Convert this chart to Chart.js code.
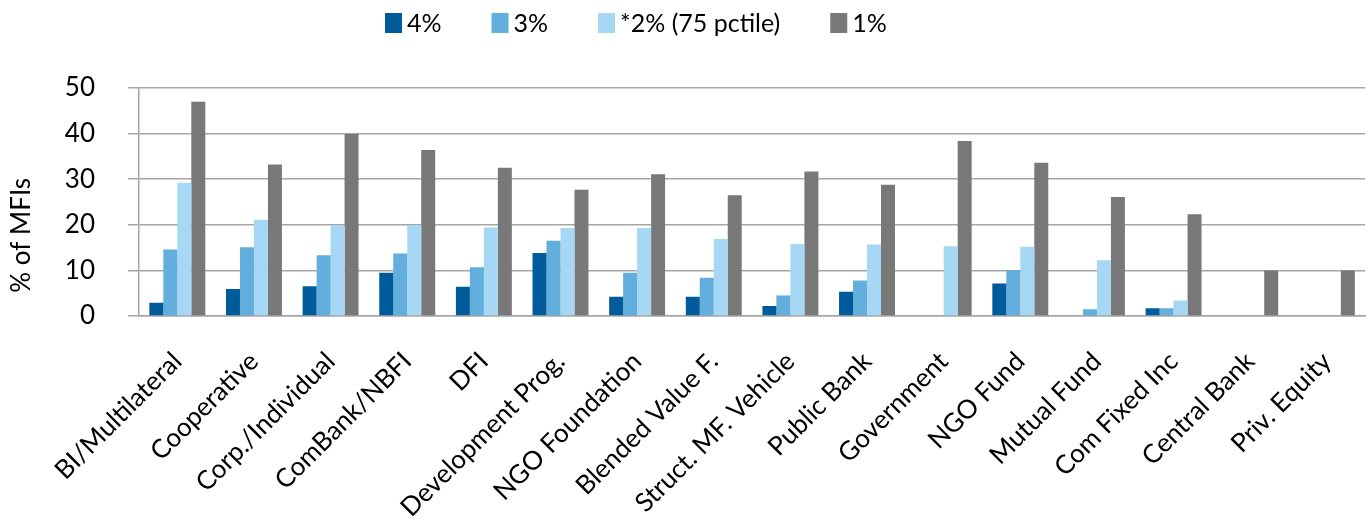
<!DOCTYPE html>
<html>
<head>
<meta charset="utf-8">
<script src="https://cdn.jsdelivr.net/npm/chart.js@4/dist/chart.umd.min.js"></script>
<style>
  html, body { margin: 0; padding: 0; background: #ffffff; }
  #wrap { width: 1371px; height: 527px; }
</style>
</head>
<body>
<div id="wrap"><canvas id="chart" width="1371" height="527"></canvas></div>
<script>
// Funder categories along the x axis
const categories = [
  'BI/Multilateral', 'Cooperative', 'Corp./Individual', 'ComBank/NBFI', 'DFI',
  'Development Prog.', 'NGO Foundation', 'Blended Value F.', 'Struct. MF. Vehicle',
  'Public Bank', 'Government', 'NGO Fund', 'Mutual Fund', 'Com Fixed Inc',
  'Central Bank', 'Priv. Equity'
];

// Series names shown in the legend
const seriesNames = ['4%', '3%', '*2% (75 pctile)', '1%'];

// Share of MFIs (%) per funder category
const pct4 = [2.9, 5.9, 6.5, 9.5, 6.4, 13.8, 4.2, 4.2, 2.2, 5.3, 0, 7.1, 0, 1.7, 0, 0];
const pct3 = [14.6, 15.1, 13.3, 13.7, 10.7, 16.5, 9.5, 8.4, 4.5, 7.8, 0, 10.1, 1.5, 1.7, 0, 0];
const pct2 = [29.2, 21.1, 19.9, 19.9, 19.4, 19.3, 19.3, 16.9, 15.8, 15.7, 15.3, 15.2, 12.2, 3.4, 0, 0];
const pct1 = [47.0, 33.2, 39.9, 36.4, 32.5, 27.7, 31.1, 26.5, 31.7, 28.8, 38.4, 33.6, 26.1, 22.3, 10.0, 10.0];

// Y axis ticks
const yTicks = [0, 10, 20, 30, 40, 50];

const seriesColors = ['#005B9B', '#62AEDD', '#A6D7F5', '#787878'];
const FONT = 'Lato, "Open Sans", "DejaVu Sans", sans-serif';

// Legend drawn as a single row above the plot
const topLegend = {
  id: 'topLegend',
  afterDraw(chart) {
    const ctx = chart.ctx;
    const box = 17, boxH = 20, textGap = 5, itemGap = 50;
    ctx.save();
    ctx.font = '25px ' + FONT;
    ctx.textBaseline = 'middle';
    ctx.textAlign = 'left';
    let x = 385;
    const yMid = 23;
    chart.data.datasets.forEach(ds => {
      ctx.fillStyle = ds.backgroundColor;
      ctx.fillRect(x, yMid - boxH / 2, box, boxH);
      ctx.fillStyle = '#000000';
      const tx = x + box + textGap;
      ctx.fillText(ds.label, tx, yMid + 1);
      x = tx + ctx.measureText(ds.label).width + itemGap;
    });
    ctx.restore();
  }
};

const datasets = [pct4, pct3, pct2, pct1].map((vals, i) => ({
  label: seriesNames[i],
  data: vals,
  backgroundColor: seriesColors[i],
  borderWidth: 0,
  categoryPercentage: 0.73,
  barPercentage: 1.0
}));

new Chart(document.getElementById('chart'), {
  type: 'bar',
  data: { labels: categories, datasets },
  plugins: [topLegend],
  options: {
    responsive: false,
    animation: false,
    layout: { padding: { top: 88, right: 3, left: 0, bottom: 0 } },
    plugins: {
      legend: { display: false },
      tooltip: { enabled: false }
    },
    scales: {
      x: {
        grid: { display: false },
        border: { display: true, color: '#a6a6a6', width: 1.5 },
        ticks: {
          autoSkip: false,
          minRotation: 45,
          maxRotation: 45,
          padding: 22,
          color: '#000000',
          font: { family: FONT, size: 26 }
        },
        afterFit(scale) { scale.height = 211; }
      },
      y: {
        min: 0,
        max: 50,
        afterBuildTicks(scale) { scale.ticks = yTicks.map(v => ({ value: v })); },
        grid: { color: '#a6a6a6', lineWidth: 1.5, tickLength: 11, drawTicks: true },
        border: { display: true, color: '#a6a6a6', width: 1.5 },
        ticks: {
          padding: 33,
          color: '#000000',
          font: { family: FONT, size: 26 }
        },
        title: {
          display: true,
          text: '% of MFIs          ',
          color: '#000000',
          font: { family: FONT, size: 26 },
          padding: { top: 6, bottom: 0 }
        },
        afterFit(scale) { scale.width = 139; }
      }
    }
  }
});
</script>
</body>
</html>
